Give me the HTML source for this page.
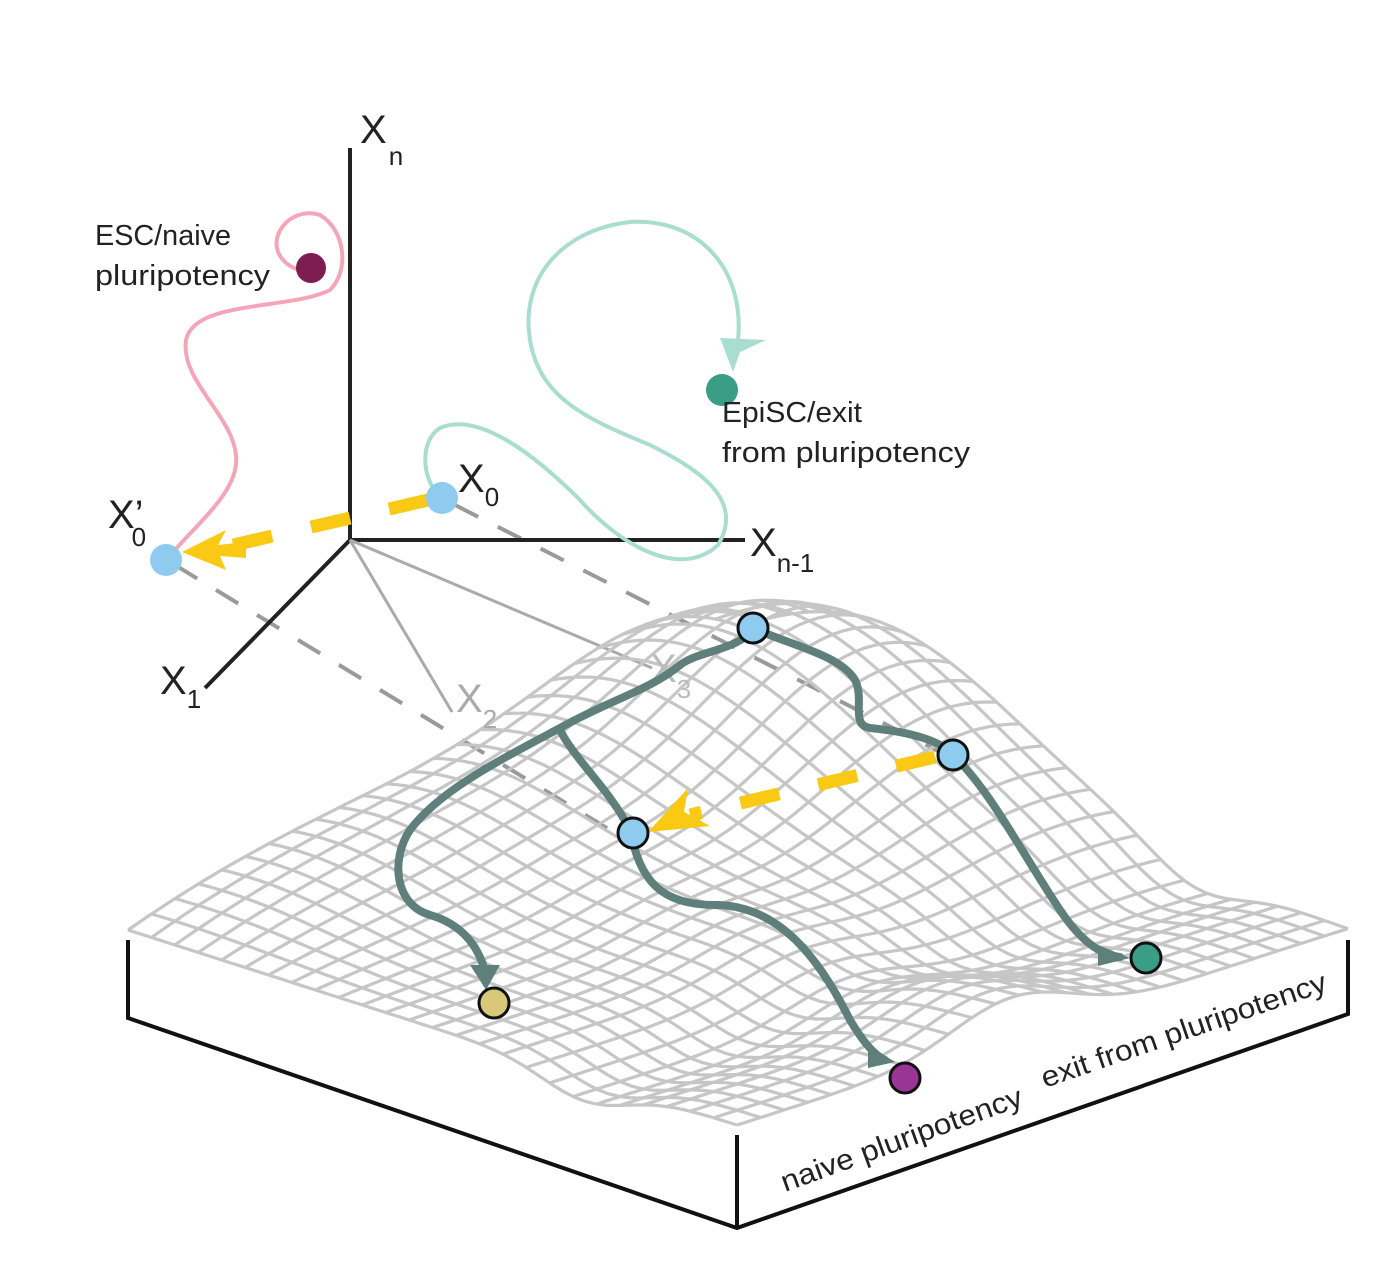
<!DOCTYPE html>
<html><head><meta charset="utf-8">
<style>
html,body{margin:0;padding:0;background:#fff;}
svg{display:block;font-family:"Liberation Sans","DejaVu Sans",sans-serif;}
</style></head>
<body>
<svg id="fig" width="1396" height="1288" viewBox="0 0 1396 1288" xmlns="http://www.w3.org/2000/svg">

  <!-- gray dashed projection lines -->
  <g stroke="#9a9a9a" stroke-width="4" stroke-dasharray="26,22" fill="none">
    <line x1="175" y1="565" x2="610" y2="830"/>
    <line x1="455" y1="505" x2="940" y2="752"/>
  </g>

  <!-- axes -->
  <g>
    <line x1="350" y1="540" x2="350" y2="148" stroke="#222" stroke-width="4"/>
    <line x1="350" y1="540" x2="745" y2="540" stroke="#222" stroke-width="4"/>
    <line x1="350" y1="540" x2="205" y2="688" stroke="#222" stroke-width="4"/>
    <line x1="350" y1="540" x2="452" y2="712" stroke="#aaa" stroke-width="3"/>
    <line x1="350" y1="540" x2="652" y2="668" stroke="#aaa" stroke-width="3"/>
  </g>

  <!-- mesh surface -->
  <g id="mesh" stroke="#c6c6c6" stroke-width="3.2" fill="none"></g>

  <g font-size="40" fill="#222">
    <text x="360" y="143">X<tspan font-size="26" dx="2" dy="22">n</tspan></text>
    <text x="750" y="556">X<tspan font-size="26" dx="0" dy="16">n-1</tspan></text>
    <text x="160" y="694">X<tspan font-size="26" dx="0" dy="14">1</tspan></text>
    <text x="456" y="712" fill="#aaa">X<tspan font-size="26" dx="0" dy="16">2</tspan></text>
    <text x="650" y="682" fill="#bbb">X<tspan font-size="26" dx="0" dy="16">3</tspan></text>
    <text x="108" y="528">X’<tspan font-size="26" dx="-12" dy="18">0</tspan></text>
    <text x="458" y="492">X<tspan font-size="26" dx="0" dy="14">0</tspan></text>
  </g>

  <!-- box -->
  <g stroke="#111" stroke-width="4" fill="none">
    <polyline points="128,940 128,1018 737,1228 1348,1014 1348,940"/>
    <line x1="737" y1="1135" x2="737" y2="1228"/>
  </g>

  <!-- pink trajectory -->
  <path d="M168,558 C200,520 240,490 236,455 C232,415 180,380 186,340 C194,300 290,310 330,290 C350,270 345,230 320,215 C290,205 262,240 285,262 C300,275 312,270 312,268" stroke="#f4a6b8" stroke-width="4" fill="none"/>
  <circle cx="311" cy="268" r="15" fill="#7e1d4f"/>

  <!-- teal trajectory -->
  <path d="M442,498 C420,480 420,440 440,428 C480,410 540,460 580,500 C620,545 680,580 718,545 C745,500 700,470 650,445 C590,420 540,400 530,340 C520,280 560,230 630,222 C700,218 745,270 738,340" stroke="#a8ddd0" stroke-width="4" fill="none"/>
  <path d="M720,338 L766,340 L740,352 L733,372 Z" fill="#a8ddd0"/>
  <circle cx="722" cy="390" r="16" fill="#3a9e86"/>

  <!-- yellow dashed arrow top -->
  <line x1="428" y1="500" x2="225" y2="547" stroke="#f9c913" stroke-width="13" stroke-dasharray="40,40"/>
  <path d="M182,552 L226,530 L218,545 L246,542 L246,558 L220,556 L226,570 Z" fill="#f9c913"/>
  <circle cx="166" cy="560" r="16" fill="#8ecbee"/>
  <circle cx="442" cy="498" r="16" fill="#8ecbee"/>

  <!-- surface trajectories -->
  <g stroke="#5f7f7b" stroke-width="8" fill="none" stroke-linecap="round">
    <path d="M753,628 C740,650 700,650 680,665 C650,690 610,700 560,728 C500,760 440,790 410,830 C390,860 395,905 430,915 C465,925 480,950 486,975"/>
    <path d="M560,730 C575,760 610,790 630,830 C640,880 660,905 715,905 C780,905 820,960 850,1020 C865,1045 875,1055 885,1060"/>
    <path d="M753,628 C790,645 840,655 855,680 C865,700 850,725 870,728 C910,732 940,740 953,755 C990,790 1020,850 1060,910 C1080,940 1100,955 1120,957"/>
  </g>
  <path d="M470,965 L500,965 L486,990 Z" fill="#5f7f7b"/>
  <path d="M868,1045 L895,1062 L868,1068 Z" fill="#5f7f7b"/>
  <path d="M1098,945 L1130,958 L1098,966 Z" fill="#5f7f7b"/>

  <!-- yellow dashed on surface -->
  <line x1="935" y1="757" x2="690" y2="815" stroke="#f9c913" stroke-width="13" stroke-dasharray="40,40"/>
  <path d="M648,832 L688,788 L684,812 L710,826 Z" fill="#f9c913"/>

  <g stroke="#111" stroke-width="3">
    <circle cx="753" cy="628" r="15" fill="#8ecbee"/>
    <circle cx="953" cy="755" r="15" fill="#8ecbee"/>
    <circle cx="633" cy="833" r="15" fill="#8ecbee"/>
    <circle cx="494" cy="1003" r="15" fill="#d9c878"/>
    <circle cx="905" cy="1078" r="15" fill="#9b3595"/>
    <circle cx="1146" cy="958" r="15" fill="#3a9e86"/>
  </g>

  <!-- text labels -->
  <g font-size="29" fill="#222">
    <text x="95" y="245" textLength="136" lengthAdjust="spacingAndGlyphs">ESC/naive</text>
    <text x="95" y="285" textLength="175" lengthAdjust="spacingAndGlyphs">pluripotency</text>
    <text x="722" y="422" textLength="140" lengthAdjust="spacingAndGlyphs">EpiSC/exit</text>
    <text x="722" y="462" textLength="248" lengthAdjust="spacingAndGlyphs">from pluripotency</text>
    <text transform="translate(785,1192) rotate(-20)" textLength="255" lengthAdjust="spacingAndGlyphs">naive pluripotency</text>
    <text transform="translate(1045,1088) rotate(-19)" textLength="300" lengthAdjust="spacingAndGlyphs">exit from pluripotency</text>
  </g>
</svg>
<script>
const B=[739,745], dL=[-611,195], dR=[609,195];
const N=26;
function h(u,v){
  let hill=170*Math.exp(-((u-0.08)*(u-0.08)/0.09+(v-0.22)*(v-0.22)/0.13));
  let leftRidge=60*Math.exp(-((v-0.05)*(v-0.05)/0.06))*4*u*(1-u);
  let ridge=40*Math.exp(-((u-0.55)*(u-0.55)/0.02))*v;
  let valley=-25*Math.exp(-((v-0.75)*(v-0.75)/0.01));
  return 10+hill+leftRidge+ridge+valley;
}
function P(u,v){return [B[0]+u*dL[0]+v*dR[0], B[1]+u*dL[1]+v*dR[1]-h(u,v)];}
const g=document.getElementById('mesh');
for(let i=0;i<=N;i++){
  for(let dir=0;dir<2;dir++){
    let pts=[];
    for(let j=0;j<=60;j++){
      const a=i/N,b=j/60;
      const p=dir?P(a,b):P(b,a);
      pts.push(p[0].toFixed(1)+','+p[1].toFixed(1));
    }
    const pl=document.createElementNS('http://www.w3.org/2000/svg','polyline');
    pl.setAttribute('points',pts.join(' '));
    
    
    g.appendChild(pl);
  }
}
</script>
</body></html>
